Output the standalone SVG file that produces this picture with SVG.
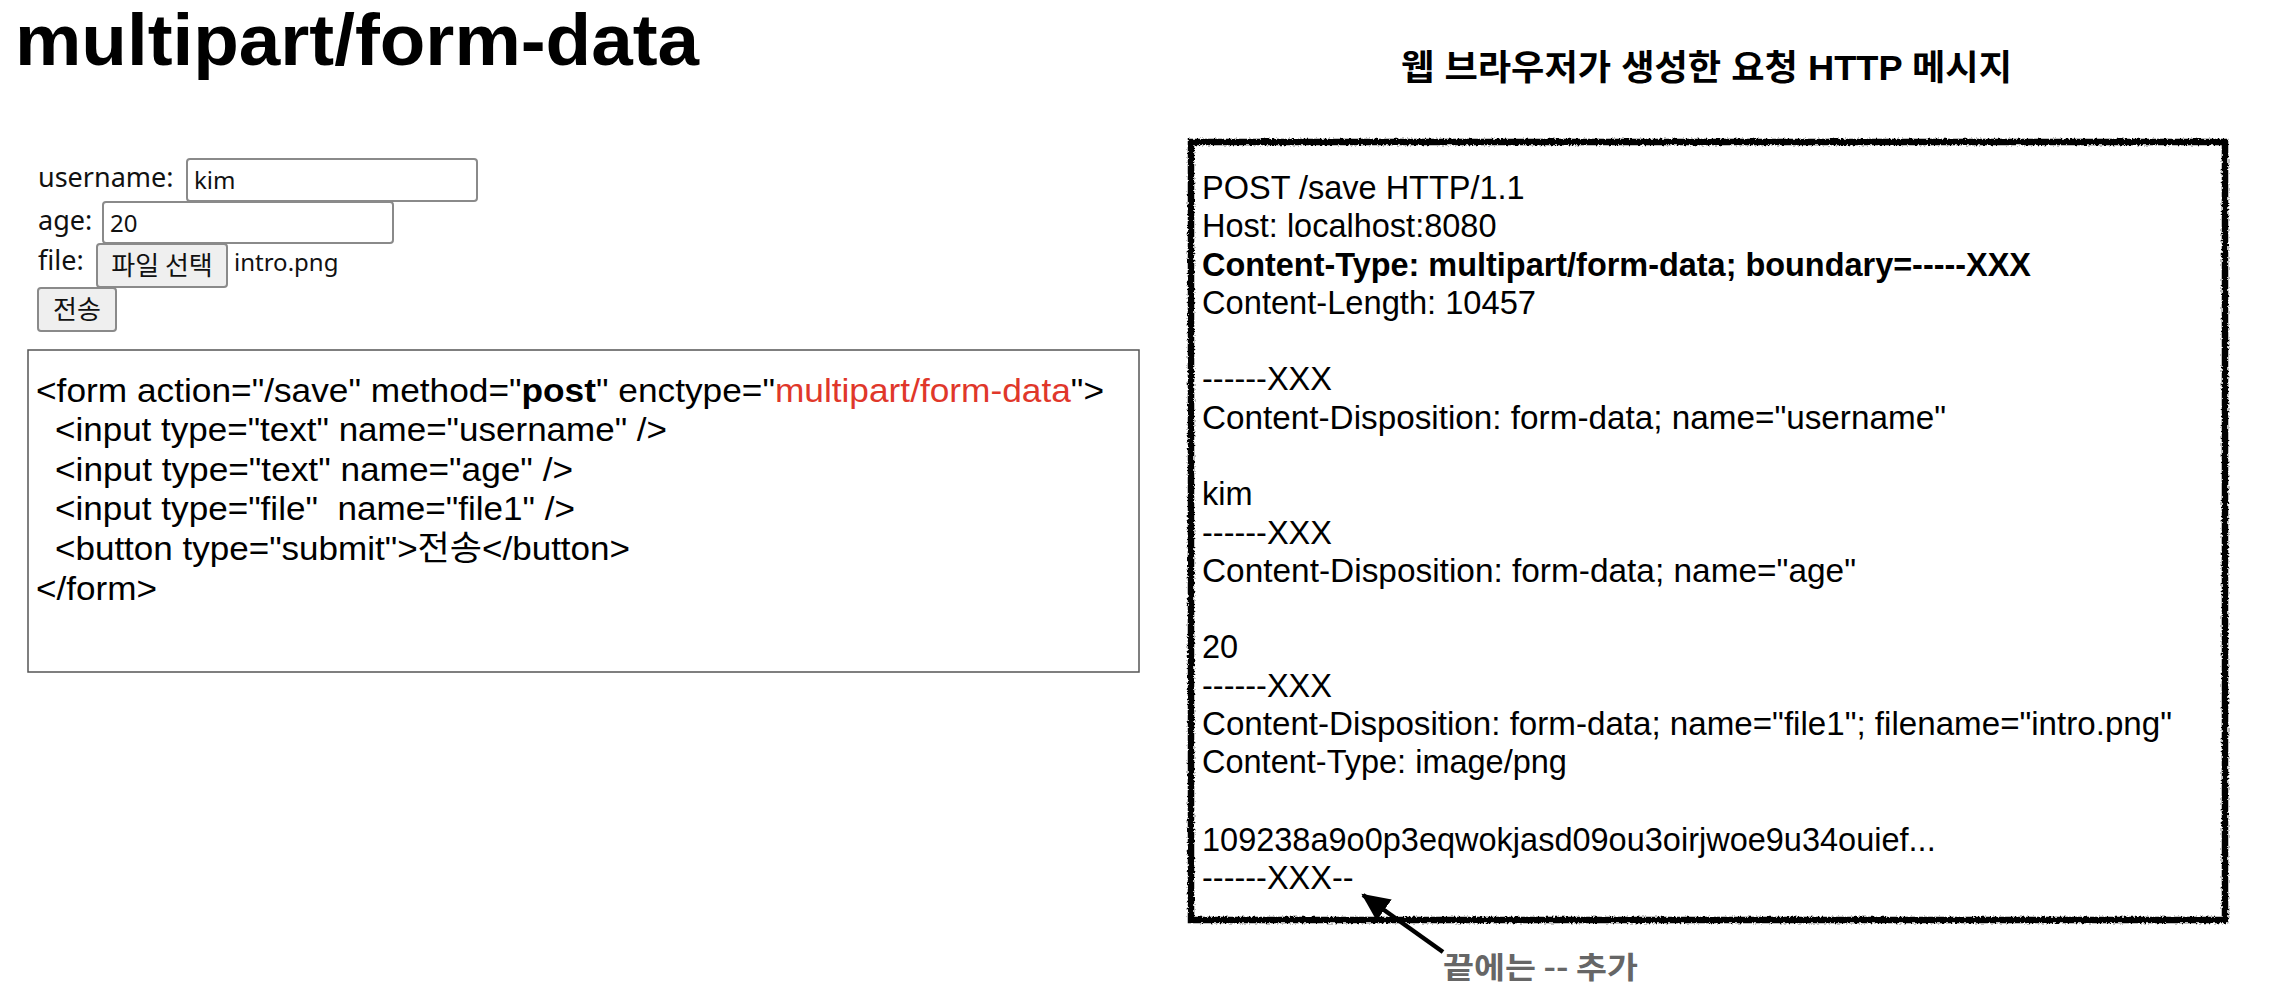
<svg xmlns="http://www.w3.org/2000/svg" width="2286" height="996" viewBox="0 0 2286 996">
  <style>
    .title { font-family: "Liberation Sans", Arial, sans-serif; font-weight: bold; font-size: 73px; fill: #000; }
    .heading { font-family: "Liberation Sans", "Noto Sans CJK KR", sans-serif; font-weight: bold; font-size: 35px; fill: #000; }
    .ui { font-family: "Noto Sans", "Noto Sans CJK KR", sans-serif; font-size: 27px; fill: #111; }
    .ui-small { font-family: "Noto Sans", "Noto Sans CJK KR", sans-serif; font-size: 24px; fill: #111; }
    .ui-btn { font-family: "Noto Sans CJK KR", sans-serif; font-size: 26px; fill: #111; }
    .field { fill: #fff; stroke: #8a8a8a; stroke-width: 2; }
    .btn { fill: #efefef; stroke: #8a8a8a; stroke-width: 2; }
    .code { font-family: "Liberation Sans", "Noto Sans CJK KR", sans-serif; font-size: 34px; fill: #000; white-space: pre; }
    .msg { font-family: "Liberation Sans", "Noto Sans CJK KR", sans-serif; font-size: 32.5px; fill: #000; white-space: pre; }
    .bold { font-weight: bold; }
    .red { fill: #e0372a; }
    .note { font-family: "Noto Sans CJK KR", sans-serif; font-weight: bold; font-size: 30px; fill: #666; }
  </style>
  <defs>
    <filter id="rough" x="-3%" y="-3%" width="106%" height="106%">
      <feTurbulence type="fractalNoise" baseFrequency="0.45" numOctaves="2" seed="7" result="noise"/>
      <feDisplacementMap in="SourceGraphic" in2="noise" scale="4" xChannelSelector="R" yChannelSelector="G"/>
    </filter>
    <marker id="arrowhead" markerUnits="userSpaceOnUse" markerWidth="30" markerHeight="26" refX="26" refY="13" orient="auto">
      <path d="M0,0 L28,13 L0,26 Z" fill="#000"/>
    </marker>
  </defs>

  <rect width="2286" height="996" fill="#fff"/>

  <g id="title">
    <text class="title" x="15" y="65" textLength="684" lengthAdjust="spacingAndGlyphs">multipart/form-data</text>
  </g>

  <!-- rendered HTML form -->
  <g id="form-ui">
    <text class="ui" x="38" y="187">username:</text>
    <rect class="field" x="187" y="159" width="290" height="42" rx="3"/>
    <text class="ui-small" x="194" y="189">kim</text>

    <text class="ui" x="38" y="230">age:</text>
    <rect class="field" x="103" y="202" width="290" height="41" rx="3"/>
    <text class="ui-small" x="110" y="232">20</text>

    <text class="ui" x="38" y="270">file:</text>
    <rect class="btn" x="97" y="244" width="130" height="43" rx="3"/>
    <text class="ui-btn" x="162" y="275" text-anchor="middle">파일 선택</text>
    <text class="ui-small" x="234" y="271">intro.png</text>

    <rect class="btn" x="38" y="288" width="78" height="43" rx="3"/>
    <text class="ui-btn" x="77" y="319" text-anchor="middle">전송</text>
  </g>

  <!-- HTML source of the form -->
  <g id="code-box">
    <rect x="28" y="350" width="1111" height="322" fill="#fff" stroke="#555" stroke-width="1.5"/>
    <text class="code" x="36" y="402" textLength="1068" lengthAdjust="spacingAndGlyphs">&lt;form action="/save" method="<tspan class="bold">post</tspan>" enctype="<tspan class="red">multipart/form-data</tspan>"&gt;</text>
    <text class="code" x="55" y="441" textLength="612" lengthAdjust="spacingAndGlyphs">&lt;input type="text" name="username" /&gt;</text>
    <text class="code" x="55" y="481" textLength="518" lengthAdjust="spacingAndGlyphs">&lt;input type="text" name="age" /&gt;</text>
    <text class="code" x="55" y="520" textLength="520" lengthAdjust="spacingAndGlyphs">&lt;input type="file"  name="file1" /&gt;</text>
    <text class="code" x="55" y="560" textLength="575" lengthAdjust="spacingAndGlyphs">&lt;button type="submit"&gt;전송&lt;/button&gt;</text>
    <text class="code" x="36" y="600" textLength="121" lengthAdjust="spacingAndGlyphs">&lt;/form&gt;</text>
  </g>

  <g id="http-heading">
    <text class="heading" x="1401" y="80" textLength="611" lengthAdjust="spacingAndGlyphs">웹 브라우저가 생성한 요청 HTTP 메시지</text>
  </g>

  <!-- generated HTTP request message -->
  <g id="http-message">
    <rect x="1191" y="142" width="1034" height="778" fill="none" stroke="#000" stroke-width="6.5" filter="url(#rough)"/>
    <text class="msg" x="1202" y="199">POST /save HTTP/1.1</text>
    <text class="msg" x="1202" y="237">Host: localhost:8080</text>
    <text class="msg bold" x="1202" y="276" textLength="829" lengthAdjust="spacingAndGlyphs">Content-Type: multipart/form-data; boundary=-----XXX</text>
    <text class="msg" x="1202" y="314" textLength="334" lengthAdjust="spacingAndGlyphs">Content-Length: 10457</text>
    <text class="msg" x="1202" y="390">------XXX</text>
    <text class="msg" x="1202" y="429" textLength="744" lengthAdjust="spacingAndGlyphs">Content-Disposition: form-data; name="username"</text>
    <text class="msg" x="1202" y="505">kim</text>
    <text class="msg" x="1202" y="544">------XXX</text>
    <text class="msg" x="1202" y="582" textLength="654" lengthAdjust="spacingAndGlyphs">Content-Disposition: form-data; name="age"</text>
    <text class="msg" x="1202" y="658">20</text>
    <text class="msg" x="1202" y="697">------XXX</text>
    <text class="msg" x="1202" y="735" textLength="970" lengthAdjust="spacingAndGlyphs">Content-Disposition: form-data; name="file1"; filename="intro.png"</text>
    <text class="msg" x="1202" y="773">Content-Type: image/png</text>
    <text class="msg" x="1202" y="851">109238a9o0p3eqwokjasd09ou3oirjwoe9u34ouief...</text>
    <text class="msg" x="1202" y="889">------XXX--</text>
  </g>

  <g id="note">
    <text class="note" x="1443" y="978" textLength="195" lengthAdjust="spacingAndGlyphs">끝에는 -- 추가</text>
  </g>

  <g id="connectors">
    <line x1="1443" y1="952" x2="1363" y2="895" stroke="#000" stroke-width="4.5" marker-end="url(#arrowhead)"/>
  </g>
</svg>
